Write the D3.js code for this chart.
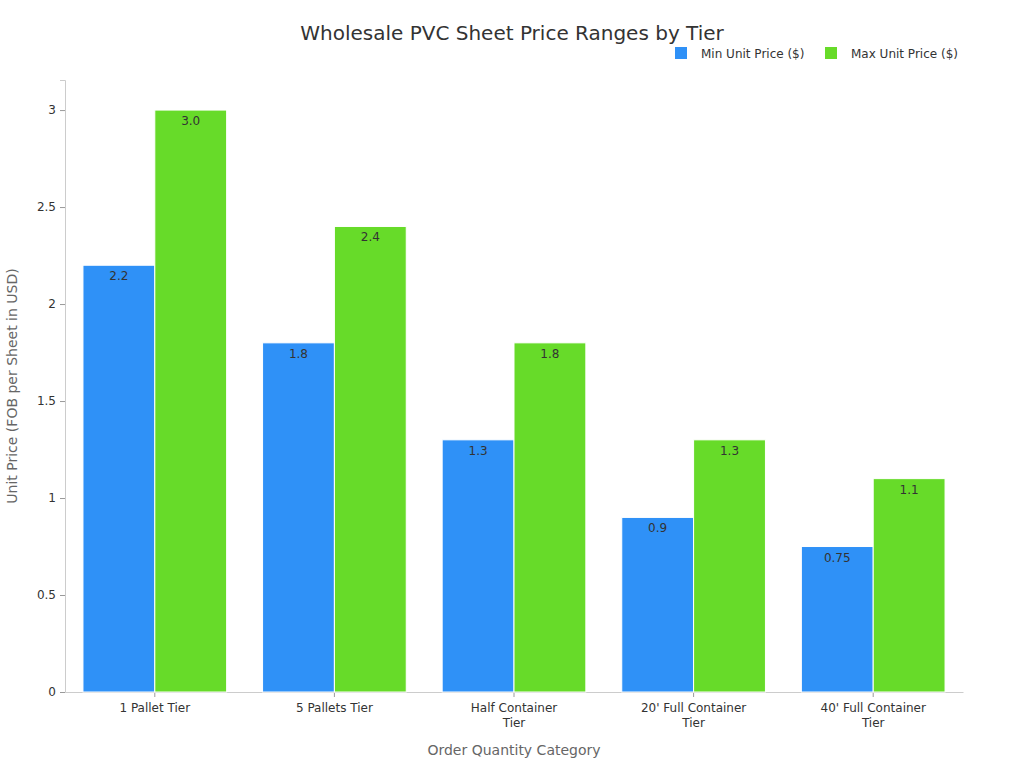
<!DOCTYPE html>
<html>
<head>
<meta charset="utf-8">
<script src="https://cdn.jsdelivr.net/npm/d3@7"></script>
<style>
  body { margin: 0; background: #fff; }
  svg, svg text { font-family: "DejaVu Sans", sans-serif; }
</style>
</head>
<body>
<div id="chart"></div>
<script>
var categories = ["1 Pallet Tier", "5 Pallets Tier", "Half Container Tier", "20' Full Container Tier", "40' Full Container Tier"];
var seriesNames = ["Min Unit Price ($)", "Max Unit Price ($)"];
var minPrices = [2.2, 1.8, 1.3, 0.9, 0.75];
var maxPrices = [3.0, 2.4, 1.8, 1.3, 1.1];
var minLabels = ["2.2", "1.8", "1.3", "0.9", "0.75"];
var maxLabels = ["3.0", "2.4", "1.8", "1.3", "1.1"];
var yTicks = [0, 0.5, 1, 1.5, 2, 2.5, 3];
var colors = ["#2f91f7", "#67db29"];

var width = 1024, height = 768;
var margin = { top: 80, right: 61, bottom: 76, left: 65 };
var innerW = width - margin.left - margin.right;
var innerH = height - margin.top - margin.bottom;

var svg = d3.select("#chart").append("svg")
  .attr("width", width)
  .attr("height", height);

var g = svg.append("g").attr("transform", "translate(" + margin.left + "," + margin.top + ")");

var x = d3.scaleBand().domain(categories).range([0, innerW]).paddingInner(0.2).paddingOuter(0.1);
var xs = d3.scaleBand().domain(seriesNames).range([0, x.bandwidth()]);
var y = d3.scaleLinear().domain([0, 3.155]).range([innerH, 0]);

// axes
var yAxis = g.append("g")
  .call(d3.axisLeft(y).tickValues(yTicks).tickSize(5).tickPadding(4).tickFormat(d3.format("")))
  .attr("font-family", "DejaVu Sans");
yAxis.select(".domain").attr("stroke", "#ccc");
yAxis.selectAll(".tick line").attr("stroke", "#999");
yAxis.selectAll(".tick text").attr("fill", "#333").style("font-size", "12px");

// x ticks at group centers
var xAxis = g.append("g").attr("transform", "translate(0," + innerH + ")")
  .call(d3.axisBottom(x).tickSize(5).tickPadding(6).tickSizeOuter(0))
  .attr("font-family", "DejaVu Sans");
xAxis.select(".domain").attr("stroke", "#ccc");
xAxis.selectAll(".tick line").attr("stroke", "#999");
xAxis.selectAll(".tick text").attr("fill", "#333").style("font-size", "12px")
  .each(function(d) {
    var t = d3.select(this);
    var lines = d.indexOf("Container") >= 0 ? [d.replace(/ Tier$/, ""), "Tier"] : [d];
    t.text(null);
    lines.forEach(function(l, i) {
      t.append("tspan").attr("x", 0).attr("dy", i === 0 ? "0.71em" : "1.3em").text(l);
    });
  });

// bars
var data = categories.map(function(c, i) {
  return [
    { cat: c, s: seriesNames[0], v: minPrices[i], label: minLabels[i], color: colors[0] },
    { cat: c, s: seriesNames[1], v: maxPrices[i], label: maxLabels[i], color: colors[1] }
  ];
});

var groups = g.selectAll(".grp").data(data).enter().append("g")
  .attr("class", "grp")
  .attr("transform", function(d) { return "translate(" + x(d[0].cat) + ",0)"; });

groups.selectAll("rect").data(function(d) { return d; }).enter().append("rect")
  .attr("x", function(d) { return xs(d.s); })
  .attr("y", function(d) { return y(d.v); })
  .attr("width", xs.bandwidth())
  .attr("height", function(d) { return innerH - y(d.v); })
  .attr("fill", function(d) { return d.color; })
  .attr("stroke", "#fff")
  .attr("stroke-width", 1);

groups.selectAll("text.val").data(function(d) { return d; }).enter().append("text")
  .attr("class", "val")
  .attr("x", function(d) { return xs(d.s) + xs.bandwidth() / 2; })
  .attr("y", function(d) { return y(d.v) + 15; })
  .attr("text-anchor", "middle")
  .attr("fill", "#333")
  .style("font-size", "12px")
  .text(function(d) { return d.label; });

// title
svg.append("text")
  .attr("x", 512).attr("y", 40)
  .attr("text-anchor", "middle")
  .attr("fill", "#333")
  .style("font-size", "20px")
  .text("Wholesale PVC Sheet Price Ranges by Tier");

// axis titles
svg.append("text")
  .attr("x", margin.left + innerW / 2).attr("y", 755)
  .attr("text-anchor", "middle")
  .attr("fill", "#666")
  .style("font-size", "14px")
  .text("Order Quantity Category");

svg.append("text")
  .attr("transform", "translate(17," + (margin.top + innerH / 2) + ") rotate(-90)")
  .attr("text-anchor", "middle")
  .attr("fill", "#666")
  .style("font-size", "14px")
  .text("Unit Price (FOB per Sheet in USD)");

// legend
var legendX = [675, 825];
var legend = svg.selectAll(".leg").data(seriesNames).enter().append("g")
  .attr("class", "leg")
  .attr("transform", function(d, i) { return "translate(" + legendX[i] + ",47)"; });
legend.append("rect").attr("width", 12).attr("height", 12)
  .attr("fill", function(d, i) { return colors[i]; });
legend.append("text").attr("x", 26).attr("y", 10.5)
  .attr("fill", "#333").style("font-size", "12px")
  .text(function(d) { return d; });
</script>
</body>
</html>
